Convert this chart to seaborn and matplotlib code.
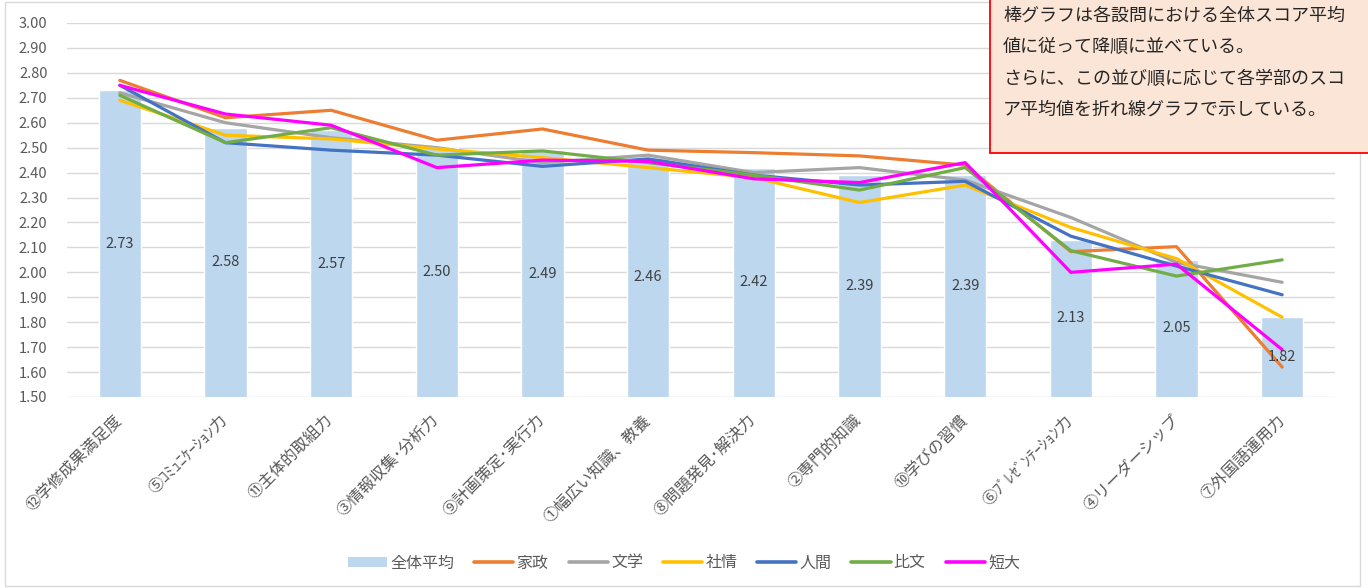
import numpy as np
import pandas as pd
import matplotlib
matplotlib.use("Agg")
import matplotlib.pyplot as plt
from matplotlib.patches import Patch, Rectangle
from matplotlib.lines import Line2D
import seaborn as sns

# ---------------- data ----------------
items = ["⑫学修成果満足度", "⑤ｺﾐｭﾆｹｰｼｮﾝ力", "⑪主体的取組力", "③情報収集･分析力",
         "⑨計画策定･実行力", "①幅広い知識、教養", "⑧問題発見･解決力", "②専門的知識",
         "⑩学びの習慣", "⑥ﾌﾟﾚｾﾞﾝﾃｰｼｮﾝ力", "④リーダーシップ", "⑦外国語運用力"]
overall = [2.73, 2.58, 2.57, 2.50, 2.49, 2.46, 2.42, 2.39, 2.39, 2.13, 2.05, 1.82]

kasei   = [2.77, 2.62, 2.65, 2.53, 2.575, 2.49, 2.48, 2.467, 2.43, 2.083, 2.103, 1.62]
bungaku = [2.72, 2.60, 2.54, 2.50, 2.44, 2.47, 2.40, 2.42, 2.37, 2.22, 2.04, 1.96]
shajo   = [2.69, 2.55, 2.535, 2.495, 2.46, 2.42, 2.38, 2.28, 2.35, 2.18, 2.055, 1.82]
ningen  = [2.75, 2.52, 2.49, 2.47, 2.425, 2.455, 2.39, 2.35, 2.365, 2.145, 2.025, 1.91]
hibun   = [2.71, 2.52, 2.58, 2.47, 2.487, 2.44, 2.39, 2.33, 2.42, 2.087, 1.985, 2.05]
tandai  = [2.75, 2.635, 2.59, 2.42, 2.45, 2.445, 2.375, 2.36, 2.44, 2.00, 2.033, 1.69]

series_names = ["家政", "文学", "社情", "人間", "比文", "短大"]
series_values = [kasei, bungaku, shajo, ningen, hibun, tandai]
series_colors = ["#ED7D31", "#A5A5A5", "#FFC000", "#4472C4", "#70AD47", "#FF00FF"]
bar_name = "全体平均"
bar_color = "#BDD7EE"

note_lines = ["棒グラフは各設問における全体スコア平均",
              "値に従って降順に並べている。",
              "さらに、この並び順に応じて各学部のスコ",
              "ア平均値を折れ線グラフで示している。"]

y_min, y_max, y_step = 1.50, 3.00, 0.10

# ---------------- style ----------------
sns.set_theme(style="white")
plt.rcParams["font.family"] = ["Noto Sans CJK JP", "DejaVu Sans"]
txt_gray = "#595959"
grid_gray = "#D9D9D9"

W, H = 1368, 588
fig = plt.figure(figsize=(W / 100, H / 100), dpi=100)
ax = fig.add_axes([67 / W, 1 - 397 / H, (1335 - 67) / W, (397 - 23) / H])

bar_df = pd.DataFrame({"item": items, "score": overall})
sns.barplot(data=bar_df, x="item", y="score", color=bar_color, width=0.4,
            saturation=1, ax=ax, zorder=2)

long_df = pd.concat([
    pd.DataFrame({"item": items, "score": vals, "学部": name})
    for name, vals in zip(series_names, series_values)
], ignore_index=True)
sns.lineplot(data=long_df, x="item", y="score", hue="学部",
             palette=dict(zip(series_names, series_colors)),
             linewidth=2.3, sort=False, legend=False, ax=ax, zorder=3)

# bar value labels (centered in the visible bar)
for i, v in enumerate(overall):
    ax.text(i, (y_min + v) / 2, f"{v:.2f}", ha="center", va="center",
            fontsize=10.5, color="#404040", zorder=4)

ax.set_xlim(-0.5, len(items) - 0.5)
ax.set_ylim(y_min, y_max)
yt = np.round(np.arange(y_min, y_max + 1e-9, y_step), 2)
ax.set_yticks(yt)
ax.set_yticklabels([f"{t:.2f}" for t in yt])
ax.yaxis.grid(True, color=grid_gray, linewidth=1.0, zorder=0)
ax.set_axisbelow(True)
for s in ax.spines.values():
    s.set_visible(False)
ax.set_xlabel("")
ax.set_ylabel("")
ax.tick_params(axis="y", length=0, pad=14, labelsize=10.5, labelcolor=txt_gray)
ax.tick_params(axis="x", length=0, pad=15, labelsize=11.5, labelcolor=txt_gray)
ax.set_xticks(range(len(items)))
ax.set_xticklabels(items, rotation=45, ha="right", va="center",
                   rotation_mode="anchor")

# legend
handles = [Patch(facecolor=bar_color, edgecolor="none", label=bar_name)]
for name, col in zip(series_names, series_colors):
    handles.append(Line2D([0], [0], color=col, linewidth=2.6, label=name))
leg = fig.legend(handles=handles, loc="center", bbox_to_anchor=(0.5, 1 - 563 / H),
                 ncol=len(handles), frameon=False, fontsize=11.5,
                 handlelength=2.45, handleheight=0.6, handletextpad=0.2,
                 columnspacing=1.25)
for t in leg.get_texts():
    t.set_color(txt_gray)

# chart border
fig.add_artist(Rectangle((5 / W, 2 / H), (1360 - 5) / W, (586 - 2) / H,
                         transform=fig.transFigure, fill=False,
                         edgecolor=grid_gray, linewidth=1.0, zorder=0))

# annotation box
fig.add_artist(Rectangle((990 / W, 1 - 153 / H), 0.4, 0.4,
                         transform=fig.transFigure, facecolor="#FBE5D6",
                         edgecolor="#FF0000", linewidth=1.3, zorder=10,
                         clip_on=False))
for k, line in enumerate(note_lines):
    fig.text(1003 / W, 1 - (16 + 31.3 * k) / H, line, ha="left", va="center",
             fontsize=13, color="#262626", zorder=11)

fig.savefig("out.png", dpi=100)
